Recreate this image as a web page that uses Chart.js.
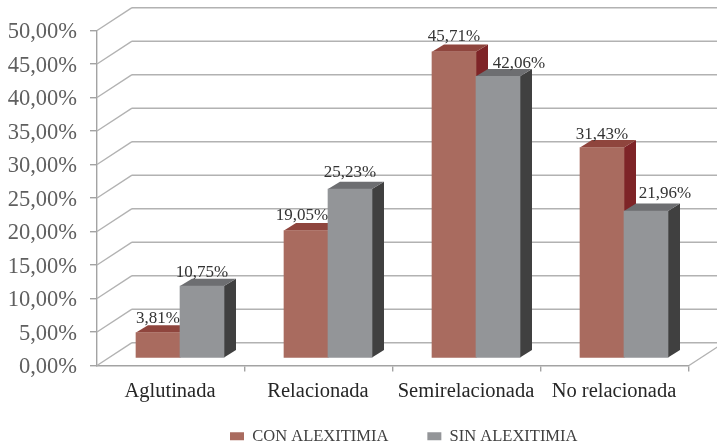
<!DOCTYPE html>
<html lang="es">
<head>
    <meta charset="UTF-8">
    <title>Alexitimia</title>
    <style>
        html, body { margin: 0; padding: 0; background: #fff; }
        canvas { display: block; }
    </style>
</head>
<body>
<canvas id="chart" width="717" height="444"></canvas>
<script src="https://cdn.jsdelivr.net/npm/chart.js@4/dist/chart.umd.min.js"></script>
<script>
    const categories = ['Aglutinada', 'Relacionada', 'Semirelacionada', 'No relacionada'];
    const conAlexitimia = [3.81, 19.05, 45.71, 31.43];
    const sinAlexitimia = [10.75, 25.23, 42.06, 21.96];
    const seriesNames = ['CON ALEXITIMIA', 'SIN ALEXITIMIA'];

    const gridColor = '#b2b2b2';
    const axisColor = '#a3a3a3';
    const wallDepth = { x: 35, y: -22.8 };   // front axis -> back wall
    const barOffset = { x: 9, y: -7.4 };     // bars stand in the middle of the floor
    const barDepth = { x: 12, y: -7.4 };
    const faceColors = [
        { top: '#8f453d', side: '#7e2427' },
        { top: '#6d6e71', side: '#404040' }
    ];
    // hand placement of the value labels so they don't collide
    const labelShift = [[0, -4, 0, 0], [0, 0, 21, 19]];
    const labelRaise = [[9.5, 10, 11, 9], [9.5, 12, 8, 13]];

    function decimal(v) {
        return v.toFixed(2).replace('.', ',') + '%';
    }

    function line(ctx, x1, y1, x2, y2) {
        ctx.beginPath();
        ctx.moveTo(x1, y1);
        ctx.lineTo(x2, y2);
        ctx.stroke();
    }

    function poly(ctx, pts, color) {
        ctx.fillStyle = color;
        ctx.beginPath();
        pts.forEach((p, i) => i ? ctx.lineTo(p[0], p[1]) : ctx.moveTo(p[0], p[1]));
        ctx.closePath();
        ctx.fill();
    }

    // Walls and floor, drawn from the value axis ticks
    function drawWalls(chart) {
        const ctx = chart.ctx, area = chart.chartArea, yScale = chart.scales.y;
        ctx.save();
        ctx.strokeStyle = gridColor;
        ctx.lineWidth = 1.4;
        yScale.ticks.forEach((t, i) => {
            const y = yScale.getPixelForTick(i);
            line(ctx, area.left, y, area.left + wallDepth.x, y + wallDepth.y);
            line(ctx, area.left + wallDepth.x, y + wallDepth.y, chart.width, y + wallDepth.y);
        });
        line(ctx, area.right, area.bottom, area.right + wallDepth.x, area.bottom + wallDepth.y);
        ctx.restore();
    }

    // Top and side faces of one series, then its front faces through the controller
    function drawSeries(chart, index) {
        const ctx = chart.ctx;
        const meta = chart.getDatasetMeta(index);
        const colors = faceColors[index];
        const dx = barDepth.x, dy = barDepth.y;
        ctx.save();
        ctx.translate(barOffset.x, barOffset.y);
        meta.data.forEach(bar => {
            const p = bar.getProps(['x', 'y', 'base', 'width'], true);
            const l = p.x - p.width / 2, r = p.x + p.width / 2;
            poly(ctx, [[r, p.y], [r + dx, p.y + dy], [r + dx, p.base + dy], [r, p.base]], colors.side);
            poly(ctx, [[l, p.y], [l + dx, p.y + dy], [r + dx, p.y + dy], [r, p.y]], colors.top);
        });
        meta.controller.draw();
        ctx.restore();
    }

    function drawValueLabels(chart) {
        const ctx = chart.ctx;
        ctx.save();
        ctx.font = '17px "Liberation Serif"';
        ctx.fillStyle = '#333333';
        ctx.textAlign = 'center';
        ctx.textBaseline = 'alphabetic';
        chart.data.datasets.forEach((ds, d) => {
            chart.getDatasetMeta(d).data.forEach((bar, i) => {
                const p = bar.getProps(['x', 'y'], true);
                ctx.fillText(decimal(ds.data[i]), p.x + barOffset.x + labelShift[d][i], p.y + barOffset.y - labelRaise[d][i]);
            });
        });
        ctx.restore();
    }

    const box3d = {
        id: 'box3d',
        afterLayout(chart) {
            // legend sits right of centre, under the plot
            chart.legend.left = 191;
            // the category labels hang below the thin axis box, don't clip them
            chart.scales.x.bottom = 425;
        },
        beforeDatasetsDraw(chart) {
            drawWalls(chart);
            // left series first so the right one overlaps its side face
            drawSeries(chart, 0);
            drawSeries(chart, 1);
            drawValueLabels(chart);
            return false;
        }
    };

    new Chart(document.getElementById('chart').getContext('2d'), {
        type: 'bar',
        data: {
            labels: categories,
            datasets: [
                { label: seriesNames[0], data: conAlexitimia, backgroundColor: '#a96b5f', barThickness: 44 },
                { label: seriesNames[1], data: sinAlexitimia, backgroundColor: '#939598', barThickness: 44 }
            ]
        },
        options: {
            responsive: false,
            animation: false,
            layout: { padding: { top: 30.5, right: 28, left: 0, bottom: 0 } },
            plugins: {
                tooltip: { enabled: false },
                legend: {
                    position: 'bottom',
                    align: 'start',
                    maxHeight: 55,
                    labels: {
                        boxWidth: 14,
                        boxHeight: 8,
                        padding: 39,
                        font: { family: '"Liberation Serif"', size: 16.5 },
                        color: '#404040'
                    }
                }
            },
            scales: {
                x: {
                    afterFit(s) { s.height = 23.5; },
                    grid: {
                        drawOnChartArea: false,
                        tickLength: 6,
                        lineWidth: 1.4,
                        color: ctx => ctx.index === 0 ? 'rgba(0,0,0,0)' : axisColor
                    },
                    border: { color: axisColor, width: 1.4 },
                    ticks: {
                        padding: 8,
                        labelOffset: -1,
                        maxRotation: 0,
                        font: { family: '"Liberation Serif"', size: 20.5 },
                        color: '#262626'
                    }
                },
                y: {
                    min: 0,
                    max: 50,
                    afterFit(s) { s.width = 97; },
                    grid: {
                        drawOnChartArea: false,
                        tickLength: 7,
                        lineWidth: 1.4,
                        color: axisColor
                    },
                    border: { color: axisColor, width: 1.4 },
                    ticks: {
                        stepSize: 5,
                        padding: 13,
                        labelOffset: 2,
                        font: { family: '"Liberation Serif"', size: 22.5 },
                        color: '#5f5f5f',
                        callback: v => decimal(v)
                    }
                }
            }
        },
        plugins: [box3d]
    });
</script>
</body>
</html>
